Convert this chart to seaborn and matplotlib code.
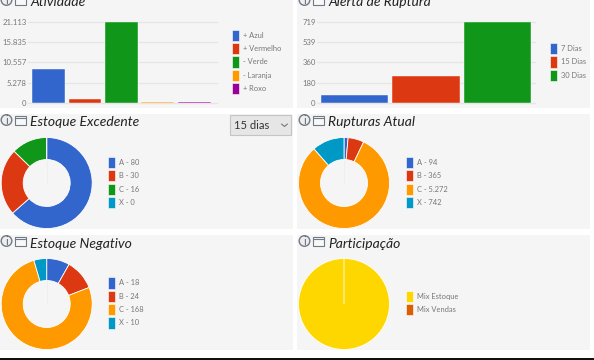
import matplotlib
matplotlib.use('Agg')
import matplotlib.pyplot as plt
from matplotlib.patches import Circle, Patch, Rectangle
import pandas as pd
import seaborn as sns

W, H = 594, 360

BLUE = '#3366cc'
RED = '#dc3912'
GREEN = '#109618'
ORANGE = '#ff9900'
PURPLE = '#990099'
TEAL = '#0099c6'
YELLOW = '#ffd700'
BURNT = '#d95f02'

# bar charts
atividade_cats = ['+ Azul', '+ Vermelho', '- Verde', '- Laranja', '+ Roxo']
atividade_vals = [8900, 1000, 21113, 250, 250]
atividade_colors = [BLUE, RED, GREEN, ORANGE, PURPLE]
atividade_ticks = [0, 5278, 10557, 15835, 21113]
atividade_labels = ['0', '5.278', '10.557', '15.835', '21.113']

alerta_cats = ['7 Dias', '15 Dias', '30 Dias']
alerta_vals = [75, 240, 719]
alerta_colors = [BLUE, RED, GREEN]
alerta_ticks = [0, 180, 360, 539, 719]
alerta_labels = ['0', '180', '360', '539', '719']

# pies
excedente_labels = ['A - 80', 'B - 30', 'C - 16', 'X - 0']
excedente_vals = [80, 30, 16, 0]
excedente_colors = [BLUE, RED, GREEN, TEAL]

rupturas_labels = ['A - 94', 'B - 365', 'C - 5.272', 'X - 742']
rupturas_vals = [94, 365, 5272, 742]
rupturas_colors = [BLUE, RED, ORANGE, TEAL]

negativo_labels = ['A - 18', 'B - 24', 'C - 168', 'X - 10']
negativo_vals = [18, 24, 168, 10]
negativo_colors = [BLUE, RED, ORANGE, TEAL]

part_labels = ['Mix Estoque', 'Mix Vendas']
part_vals = [100, 0]
part_colors = [YELLOW, BURNT]

sns.set_theme(style='white')
plt.rcParams['font.family'] = ['Lato', 'DejaVu Sans']

fig = plt.figure(figsize=(W / 100, H / 100), dpi=100, facecolor='white')


def axes_px(x0, y0, x1, y1, **kw):
    return fig.add_axes([x0 / W, 1 - y1 / H, (x1 - x0) / W, (y1 - y0) / H], **kw)


# page layer in pixel coordinates
page = axes_px(0, 0, W, H)
page.set_xlim(0, W)
page.set_ylim(H, 0)
page.axis('off')
for x0, x1 in [(0, 293), (297, 590)]:
    for y0, y1 in [(0, 108), (114, 229), (235, 350)]:
        page.add_patch(Rectangle((x0, y0), x1 - x0, y1 - y0, fc='#f5f5f5', ec='none'))
page.add_patch(Rectangle((0, 358), W, 2, fc='#111111', ec='none'))


def header(x, y, title):
    page.add_patch(Circle((x + 6.5, y), 5.3, fc='#eeeeee', ec='#6f7a86', lw=1))
    page.text(x + 6.5, y + 0.3, 'i', fontsize=8, color='#5f6a76', ha='center', va='center')
    page.add_patch(Rectangle((x + 15, y - 4.5), 11, 9, fc='#f8f8f8', ec='#6f7a86', lw=0.8))
    page.plot([x + 15, x + 26], [y - 2, y - 2], color='#6f7a86', lw=0.8)
    page.text(x + 30, y + 2.5, title, fontsize=10, style='italic', color='#222222', va='center')


def add_legend(x, y, labels, colors):
    handles = [Patch(fc=c, ec='white', lw=0.4) for c in colors]
    fig.legend(handles, labels, loc='center left', bbox_to_anchor=(x / W, 1 - y / H),
               frameon=False, fontsize=5.4, labelcolor='#777777', borderpad=0, borderaxespad=0,
               handlelength=0.9, handleheight=1.9, handletextpad=0.6, labelspacing=0.3)


def bar_panel(box, cats, vals, colors, ticks, tick_labels, xlim, width):
    ax = axes_px(*box)
    ax.patch.set_alpha(0)
    df = pd.DataFrame({'cat': cats, 'val': vals})
    sns.barplot(data=df, x='cat', y='val', hue='cat', palette=colors, legend=False,
                width=width, edgecolor='white', linewidth=0.3, saturation=1, ax=ax, zorder=3)
    ax.set_xlim(*xlim)
    ax.set_ylim(0, ticks[-1])
    ax.set_yticks(ticks, tick_labels)
    ax.set_xticks([])
    ax.set_xlabel('')
    ax.set_ylabel('')
    ax.tick_params(axis='y', length=0, pad=1, labelsize=5.6, labelcolor='#777777')
    ax.grid(axis='y', color='#e6e6e6', lw=1, clip_on=False)
    ax.set_axisbelow(True)
    sns.despine(ax=ax, left=True, bottom=True)


def pie_panel(cx, cy, vals, colors, hole=True):
    r = 45.5
    ax = axes_px(cx - r - 1, cy - r - 1, cx + r + 1, cy + r + 1)
    ax.patch.set_alpha(0)
    wedgeprops = {'edgecolor': 'white', 'linewidth': 0.6}
    if hole:
        wedgeprops['width'] = 0.484
    ax.pie(vals, colors=colors, startangle=90, counterclock=False, wedgeprops=wedgeprops, radius=1)
    if hole:
        ax.vlines(0, 0, 0.516, color='#eeeeee', lw=0.7)
    lim = (r + 1) / r
    ax.set_xlim(-lim, lim)
    ax.set_ylim(-lim, lim)


header(0, 0, 'Atividade')
bar_panel((28, 22, 217, 103), atividade_cats, atividade_vals, atividade_colors,
          atividade_ticks, atividade_labels, (-0.56, 4.62), 0.9)
add_legend(232, 62, atividade_cats, atividade_colors)

header(298, 0, 'Alerta de Ruptura')
bar_panel((317, 22, 535, 103), alerta_cats, alerta_vals, alerta_colors,
          alerta_ticks, alerta_labels, (-0.52, 2.52), 0.94)
add_legend(550, 62, alerta_cats, alerta_colors)

header(0, 120, 'Estoque Excedente')
pie_panel(46.7, 183, excedente_vals, excedente_colors)
add_legend(108, 182.5, excedente_labels, excedente_colors)

header(298, 120, 'Rupturas Atual')
pie_panel(344, 183, rupturas_vals, rupturas_colors)
add_legend(406, 182.5, rupturas_labels, rupturas_colors)

header(0, 241, 'Estoque Negativo')
pie_panel(46.7, 304, negativo_vals, negativo_colors)
add_legend(108, 303, negativo_labels, negativo_colors)

header(298, 241, 'Participação')
pie_panel(344, 304, part_vals, part_colors, hole=False)
add_legend(406, 303, part_labels, part_colors)

# period dropdown
page.add_patch(Rectangle((230, 115), 61, 20, fc='#e6e6e6', ec='#c4c4c4', lw=0.8))
page.text(234, 125.3, '15 dias', fontsize=8, color='#333333', va='center')
page.plot([281.5, 284.5, 287.5], [124, 126.5, 124], color='#777777', lw=0.8)

fig.savefig('out.png', dpi=100)
